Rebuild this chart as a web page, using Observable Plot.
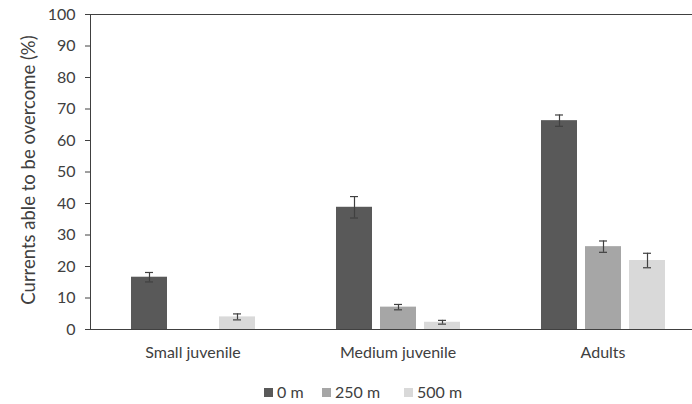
<!DOCTYPE html>
<html>
<head>
<meta charset="utf-8">
<script src="https://cdn.jsdelivr.net/npm/d3@7"></script>
<script src="https://cdn.jsdelivr.net/npm/@observablehq/plot@0.6"></script>
<style>
  html, body { margin: 0; padding: 0; background: #fff; overflow: hidden; }
  #wrap { width: 692px; overflow: hidden; }
  #legend { position: relative; height: 30px; font-family: Lato, sans-serif; font-size: 16px; color: #404040; }
  #legend .item { position: absolute; top: 0; line-height: 30px; display: flex; align-items: center; }
  #legend .sw { width: 9px; height: 9px; margin-right: 4px; }
</style>
</head>
<body>
<div id="wrap"></div>
<div id="legend"></div>
<script>
const groups = ["Small juvenile", "Medium juvenile", "Adults"];
const series = ["0 m", "250 m", "500 m"];
const mean0 = [16.6, 38.8, 66.3];
const mean250 = [0, 7.1, 26.3];
const mean500 = [4.0, 2.3, 21.9];
const err0 = [1.5, 3.4, 1.8];
const err250 = [null, 0.85, 1.8];
const err500 = [0.95, 0.6, 2.3];
const colors = ["#595959", "#a6a6a6", "#d9d9d9"];
const yTicks = [0, 10, 20, 30, 40, 50, 60, 70, 80, 90, 100];
const yLabel = "Currents able to be overcome (%)";

const means = [mean0, mean250, mean500];
const errs = [err0, err250, err500];
const data = [];
groups.forEach((g, gi) => {
  series.forEach((s, si) => {
    data.push({group: g, series: s, mean: means[si][gi], err: errs[si][gi]});
  });
});
const errData = data.filter(d => d.err != null).map(d => ({...d, lo: d.mean - d.err, hi: d.mean + d.err}));

const chart = Plot.plot({
  width: 692,
  height: 377,
  marginLeft: 89,
  marginRight: -13,
  marginTop: 14,
  marginBottom: 48,
  style: {fontFamily: "Lato, sans-serif", fontSize: "16px", color: "#404040", background: "#fff", overflow: "hidden"},
  fx: {domain: groups, padding: 0, axis: "bottom", label: null, tickSize: 0, tickPadding: 17},
  x: {domain: series, axis: null, paddingInner: 0.19, paddingOuter: 0.876},
  y: {domain: [0, 100], ticks: yTicks, tickSize: 5, tickPadding: 10, line: true, label: null},
  color: {domain: series, range: colors},
  marks: [
    Plot.barY(data, {fx: "group", x: "series", y: "mean", fill: "series"}),
    Plot.ruleX(errData, {fx: "group", x: "series", y1: "lo", y2: "hi", stroke: "#404040", strokeWidth: 1.2}),
    Plot.tickY(errData, {fx: "group", x: "series", y: "lo", stroke: "#404040", strokeWidth: 1.2, insetLeft: 14, insetRight: 14}),
    Plot.tickY(errData, {fx: "group", x: "series", y: "hi", stroke: "#404040", strokeWidth: 1.2, insetLeft: 14, insetRight: 14}),
    Plot.ruleY([0, 100], {stroke: "#404040", strokeWidth: 1.2}),
    Plot.text([yLabel], {fx: () => groups[0], text: d => d, frameAnchor: "left", textAnchor: "middle", lineAnchor: "middle", dx: -61, dy: -2, rotate: -90, fontSize: 18.5, fill: "#404040"})
  ]
});
document.getElementById("wrap").appendChild(chart);

const legend = document.getElementById("legend");
const legendX = [264, 322, 404];
series.forEach((s, i) => {
  const item = document.createElement("div");
  item.className = "item";
  item.style.left = legendX[i] + "px";
  const sw = document.createElement("span");
  sw.className = "sw";
  sw.style.background = colors[i];
  const t = document.createElement("span");
  t.textContent = s;
  item.appendChild(sw);
  item.appendChild(t);
  legend.appendChild(item);
});
</script>
</body>
</html>
